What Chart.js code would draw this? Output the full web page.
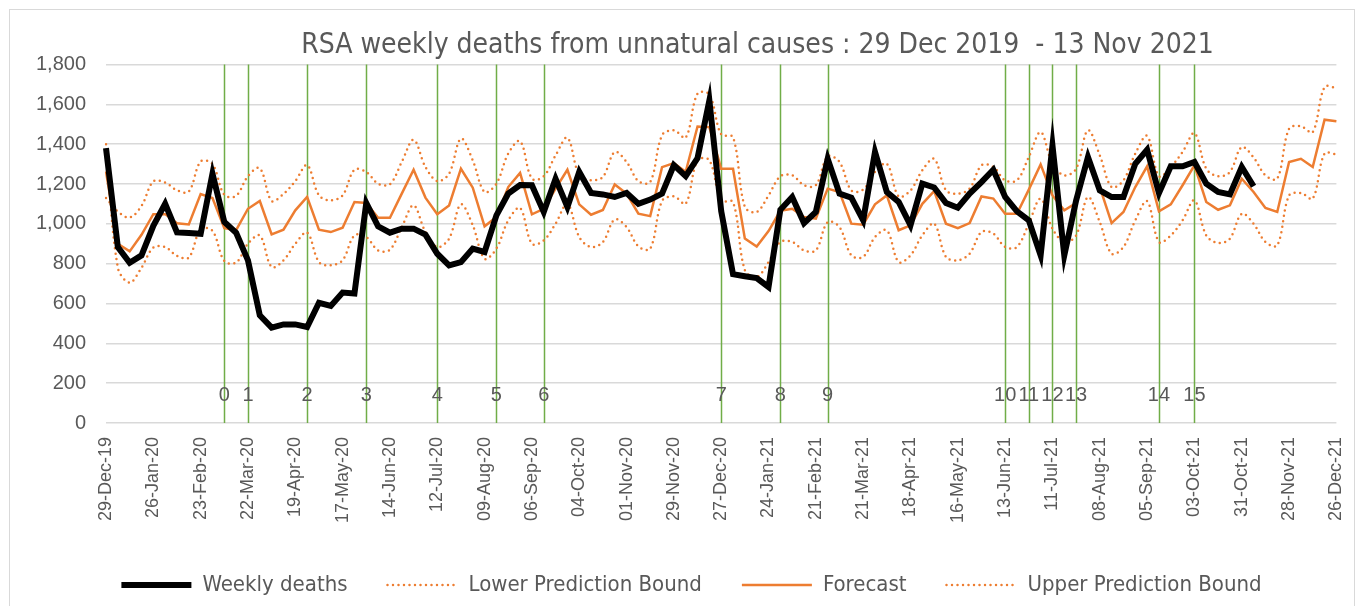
<!DOCTYPE html>
<html>
<head>
<meta charset="utf-8">
<script src="https://cdn.jsdelivr.net/npm/chart.js@4.4.1/dist/chart.umd.min.js"></script>
<style>
  html, body { margin: 0; padding: 0; background: #fff; }
  #wrap { width: 1364px; height: 606px; position: relative; }
</style>
</head>
<body>
<div id="wrap"><canvas id="myChart" width="1364" height="606"></canvas></div>
<script>
// tick labels shown on the x axis (every 4th week)
const tickLabels = [
    '29-Dec-19', '26-Jan-20', '23-Feb-20', '22-Mar-20', '19-Apr-20', '17-May-20', '14-Jun-20',
    '12-Jul-20', '09-Aug-20', '06-Sep-20', '04-Oct-20', '01-Nov-20', '29-Nov-20', '27-Dec-20',
    '24-Jan-21', '21-Feb-21', '21-Mar-21', '18-Apr-21', '16-May-21', '13-Jun-21', '11-Jul-21',
    '08-Aug-21', '05-Sep-21', '03-Oct-21', '31-Oct-21', '28-Nov-21', '26-Dec-21'
];
const weekCount = 105;

const weeklyDeaths = [
    1380, 884, 805, 842, 990, 1101, 957, 954, 950, 1252,
    1010, 955, 817, 541, 479, 495, 495, 482, 604, 588,
    655, 650, 1105, 988, 956, 976, 976, 946, 850, 792,
    808, 876, 859, 1043, 1152, 1195, 1194, 1060, 1227, 1085,
    1261, 1155, 1148, 1135, 1155, 1101, 1122, 1152, 1295, 1240,
    1330, 1620, 1065, 747, 737, 728, 683, 1071, 1135, 1004,
    1060, 1327, 1152, 1132, 1018, 1361, 1160, 1110, 993, 1202,
    1183, 1105, 1081, 1152, 1210, 1272, 1135, 1063, 1018, 842,
    1394, 842, 1118, 1336, 1168, 1135, 1135, 1302, 1372, 1155,
    1289, 1289, 1311, 1202, 1160, 1148, 1286, 1189
];

const lowerBound = [
    1400, 780, 705, 780, 881, 884, 839, 831, 973, 965,
    814, 806, 900, 942, 783, 817, 900, 957, 808, 792,
    817, 942, 934, 867, 870, 984, 1093, 959, 884, 926,
    1098, 993, 825, 876, 1018, 1080, 900, 917, 1001, 1101,
    934, 884, 909, 1022, 984, 887, 875, 1115, 1138, 1101,
    1320, 1320, 1117, 1110, 767, 733, 808, 909, 909, 867,
    867, 1009, 984, 842, 834, 934, 968, 808, 842, 942,
    1001, 834, 817, 850, 959, 951, 884, 884, 1001, 1127,
    976, 909, 942, 1135, 1009, 850, 884, 1018, 1114, 909,
    942, 1018, 1118, 942, 904, 926, 1051, 1001, 909, 892,
    1143, 1155, 1127, 1353, 1349
];

const forecast = [
    1263, 900, 862, 945, 1049, 1049, 1003, 997, 1150, 1130,
    979, 969, 1076, 1115, 947, 971, 1068, 1136, 971, 959,
    981, 1110, 1105, 1031, 1031, 1152, 1272, 1132, 1048, 1093,
    1277, 1182, 988, 1035, 1185, 1256, 1048, 1076, 1177, 1272,
    1098, 1046, 1070, 1198, 1152, 1051, 1039, 1285, 1305, 1262,
    1489, 1486, 1277, 1277, 926, 886, 964, 1066, 1076, 1035,
    1026, 1177, 1160, 1001, 996, 1098, 1143, 968, 993, 1101,
    1165, 1001, 979, 1004, 1138, 1127, 1051, 1051, 1172, 1299,
    1143, 1068, 1105, 1306, 1185, 1004, 1060, 1185, 1289, 1063,
    1098, 1194, 1294, 1110, 1071, 1093, 1227, 1160, 1080, 1060,
    1311, 1327, 1286, 1523, 1515
];

const upperBound = [
    1130, 1062, 1032, 1090, 1213, 1208, 1169, 1162, 1313, 1300,
    1146, 1141, 1240, 1280, 1115, 1150, 1215, 1295, 1143, 1118,
    1143, 1272, 1261, 1202, 1199, 1311, 1423, 1286, 1215, 1252,
    1428, 1319, 1160, 1202, 1353, 1416, 1227, 1239, 1344, 1433,
    1244, 1219, 1236, 1361, 1311, 1215, 1210, 1445, 1470, 1433,
    1654, 1650, 1449, 1436, 1085, 1060, 1143, 1239, 1244, 1194,
    1194, 1339, 1311, 1168, 1172, 1261, 1302, 1138, 1168, 1269,
    1327, 1168, 1152, 1177, 1294, 1286, 1219, 1219, 1336, 1461,
    1302, 1244, 1277, 1470, 1344, 1185, 1219, 1353, 1442, 1239,
    1286, 1361, 1456, 1277, 1239, 1261, 1386, 1333, 1244, 1227,
    1478, 1490, 1461, 1687, 1683
];

// green markers: week index and label
const markerWeeks = [10, 12, 17, 22, 28, 33, 37, 52, 57, 61, 76, 78, 80, 82, 89, 92];
const markerLabels = ['0', '1', '2', '3', '4', '5', '6', '7', '8', '9', '10', '11', '12', '13', '14', '15'];
const markerLabelValue = 140;

const labels = Array.from({ length: weekCount }, (_, i) => i % 4 === 0 ? tickLabels[i / 4] : '');

const orange = '#ED7D31';
const textGrey = '#595959';
const narrowFont = '"Liberation Sans Narrow", "DejaVu Sans Condensed", "Open Sans", sans-serif';

const markerPlugin = {
    id: 'markers',
    beforeDatasetsDraw(chart) {
        const { ctx, chartArea, scales } = chart;
        ctx.save();
        ctx.strokeStyle = '#70AD47';
        ctx.lineWidth = 1.5;
        markerWeeks.forEach(w => {
            const x = Math.round(scales.x.getPixelForValue(w)) + 0.5;
            ctx.beginPath();
            ctx.moveTo(x, chartArea.top);
            ctx.lineTo(x, chartArea.bottom);
            ctx.stroke();
        });
        ctx.fillStyle = textGrey;
        ctx.font = '20px "Liberation Sans", Arial, sans-serif';
        ctx.textAlign = 'center';
        ctx.textBaseline = 'middle';
        const y = scales.y.getPixelForValue(markerLabelValue);
        markerWeeks.forEach((w, i) => {
            ctx.fillText(markerLabels[i], scales.x.getPixelForValue(w), y);
        });
        ctx.restore();
    }
};

const framePlugin = {
    id: 'frame',
    afterLayout(chart) {
        // title and legend sit a little right of the canvas middle
        if (chart.titleBlock) {
            chart.titleBlock.left += 89;
            chart.titleBlock.right += 89;
        }
        if (chart.legend) {
            chart.legend.left += 23;
            chart.legend.right += 23;
        }
    },
    beforeDraw(chart) {
        const { ctx } = chart;
        ctx.save();
        ctx.strokeStyle = '#d9d9d9';
        ctx.lineWidth = 1;
        ctx.strokeRect(9.5, 9.5, 1345, 600);
        ctx.restore();
    }
};

const baseLabels = Chart.defaults.plugins.legend.labels.generateLabels;

const ctx = document.getElementById('myChart').getContext('2d');
const chart = new Chart(ctx, {
    type: 'line',
    data: {
        labels: labels,
        datasets: [
            {
                label: 'Weekly deaths',
                data: weeklyDeaths,
                borderColor: '#000000',
                backgroundColor: '#000000',
                borderWidth: 6,
                pointRadius: 0,
                tension: 0,
                order: 0
            },
            {
                label: 'Lower Prediction Bound',
                data: lowerBound,
                borderColor: orange,
                backgroundColor: orange,
                borderWidth: 2.5,
                borderDash: [0, 5.5],
                borderCapStyle: 'round',
                pointRadius: 0,
                tension: 0.35,
                order: 1
            },
            {
                label: 'Forecast',
                data: forecast,
                borderColor: orange,
                backgroundColor: orange,
                borderWidth: 2.5,
                pointRadius: 0,
                tension: 0,
                order: 2
            },
            {
                label: 'Upper Prediction Bound',
                data: upperBound,
                borderColor: orange,
                backgroundColor: orange,
                borderWidth: 2.5,
                borderDash: [0, 5.5],
                borderCapStyle: 'round',
                pointRadius: 0,
                tension: 0.35,
                order: 3
            }
        ]
    },
    options: {
        responsive: false,
        animation: false,
        layout: { padding: { left: 0, right: 27, top: 0, bottom: 0 } },
        plugins: {
            title: {
                display: true,
                text: 'RSA weekly deaths from unnatural causes : 29 Dec 2019  - 13 Nov 2021',
                color: textGrey,
                font: { family: narrowFont, size: 28, weight: 'normal' },
                padding: { top: 29, bottom: 2 }
            },
            legend: {
                position: 'bottom',
                labels: {
                    usePointStyle: true,
                    pointStyle: 'line',
                    pointStyleWidth: 70,
                    boxHeight: 19,
                    color: textGrey,
                    padding: 40,
                    font: { family: narrowFont, size: 22 },
                    generateLabels(chart) {
                        return baseLabels(chart).map(item => {
                            const ds = chart.data.datasets[item.datasetIndex];
                            item.lineDash = ds.borderDash || [];
                            item.lineCap = ds.borderCapStyle || 'butt';
                            item.lineWidth = ds.borderWidth;
                            item.strokeStyle = ds.borderColor;
                            return item;
                        });
                    }
                }
            },
            tooltip: { enabled: false }
        },
        scales: {
            x: {
                grid: { display: false },
                border: { display: false },
                ticks: {
                    autoSkip: false,
                    maxRotation: 90,
                    minRotation: 90,
                    padding: 6,
                    color: textGrey,
                    font: { family: '"Liberation Sans", Arial, sans-serif', size: 18 },
                    callback(v) { return labels[v] || null; }
                },
                afterFit(scale) { scale.height = 111; }
            },
            y: {
                min: 0,
                max: 1800,
                grid: { color: '#d9d9d9', lineWidth: 1.5, drawTicks: false },
                border: { display: false },
                ticks: {
                    stepSize: 200,
                    padding: 20,
                    color: textGrey,
                    font: { family: '"Liberation Sans", Arial, sans-serif', size: 20 },
                    callback(v) { return v.toLocaleString('en-US'); }
                },
                afterFit(scale) { scale.width = 106; }
            }
        }
    },
    plugins: [markerPlugin, framePlugin]
});
</script>
</body>
</html>
